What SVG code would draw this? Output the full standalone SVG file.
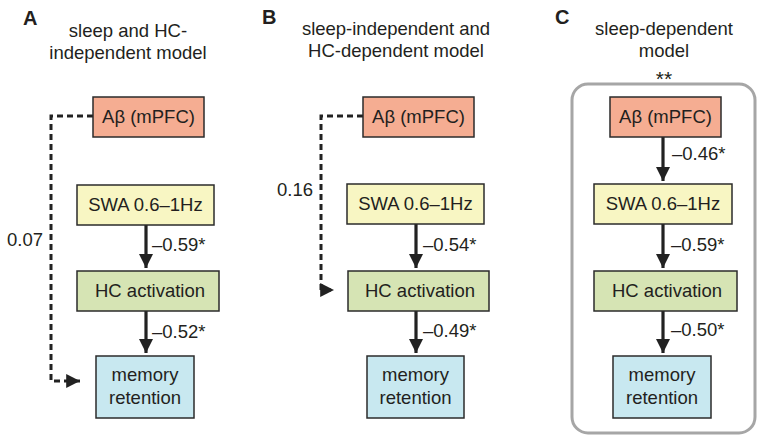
<svg xmlns="http://www.w3.org/2000/svg" width="763" height="442" viewBox="0 0 763 442">
<defs>
<style>
text{font-family:"Liberation Sans",Arial,sans-serif;fill:#231f20;font-size:18.5px}
.pl{font-weight:bold;font-size:20px}
.t{text-anchor:middle}
.st{font-size:21px}
.box{stroke:#2b2b2b;stroke-width:1.5}
.ab{fill:#f5ad92}
.swa{fill:#f8f6c3}
.hc{fill:#d6e4b4}
.mem{fill:#c8e8f0}
.sol{stroke:#222;stroke-width:3.2;fill:none}
.dash{stroke:#222;stroke-width:3;fill:none;stroke-dasharray:6 4}
.frame{fill:none;stroke:#a6a6a6;stroke-width:3}
</style>
<marker id="ah" viewBox="0 0 10 10" refX="10" refY="5" markerWidth="4.4" markerHeight="4.4" orient="auto" markerUnits="strokeWidth">
<path d="M0,0 L10,5 L0,10 z" fill="#222"/>
</marker>
<marker id="ahd" viewBox="0 0 10 10" refX="10" refY="5" markerWidth="4.6" markerHeight="4.6" orient="auto" markerUnits="strokeWidth">
<path d="M0,0 L10,5 L0,10 z" fill="#222"/>
</marker>
</defs>
<rect width="763" height="442" fill="#fff"/>

<g id="panelA">
<text class="pl" x="23" y="25">A</text>
<text class="t" x="128" y="37">sleep and HC-</text>
<text class="t" x="128" y="59">independent model</text>
</g>
<g id="panelB">
<text class="pl" x="262" y="24">B</text>
<text class="t" x="396" y="35">sleep-independent and</text>
<text class="t" x="396" y="57">HC-dependent model</text>
</g>
<g id="panelC">
<text class="pl" x="555" y="24">C</text>
<text class="t" x="664" y="35">sleep-dependent</text>
<text class="t" x="664" y="57">model</text>
<text class="t st" x="664" y="86">**</text>
<rect class="frame" x="572" y="84" width="183" height="349" rx="16"/>
</g>

<g id="connectors">
<path class="dash" d="M93,116 H51 V381 H80" marker-end="url(#ahd)"/>
<path class="dash" d="M363,116 H321 V290 H334" marker-end="url(#ahd)"/>
<line class="sol" x1="146" y1="225" x2="146" y2="268" marker-end="url(#ah)"/>
<line class="sol" x1="146" y1="311" x2="146" y2="353" marker-end="url(#ah)"/>
<line class="sol" x1="416" y1="224" x2="416" y2="268" marker-end="url(#ah)"/>
<line class="sol" x1="416" y1="311" x2="416" y2="353" marker-end="url(#ah)"/>
<line class="sol" x1="663" y1="137" x2="663" y2="181" marker-end="url(#ah)"/>
<line class="sol" x1="663" y1="224" x2="663" y2="268" marker-end="url(#ah)"/>
<line class="sol" x1="663" y1="311" x2="663" y2="353" marker-end="url(#ah)"/>
<text x="7" y="246">0.07</text>
<text x="277" y="196">0.16</text>
<text x="152" y="251">–0.59*</text>
<text x="152" y="338">–0.52*</text>
<text x="423" y="251">–0.54*</text>
<text x="423" y="337">–0.49*</text>
<text x="672" y="160">–0.46*</text>
<text x="671" y="251">–0.59*</text>
<text x="671" y="336">–0.50*</text>
</g>

<g id="A-abeta"><rect class="box ab" x="93" y="97" width="111" height="40"/><text class="t" x="148.5" y="123">Aβ (mPFC)</text></g>
<g id="A-swa"><rect class="box swa" x="77" y="185" width="137" height="40"/><text class="t" x="145.5" y="211">SWA 0.6–1Hz</text></g>
<g id="A-hc"><rect class="box hc" x="77" y="271" width="142" height="40"/><text class="t" x="150" y="297">HC activation</text></g>
<g id="A-mem"><rect class="box mem" x="96" y="356" width="98" height="62"/><text class="t" x="145" y="381">memory</text><text class="t" x="145" y="404">retention</text></g>

<g id="B-abeta"><rect class="box ab" x="363" y="97" width="111" height="40"/><text class="t" x="418.5" y="123">Aβ (mPFC)</text></g>
<g id="B-swa"><rect class="box swa" x="347" y="184" width="137" height="40"/><text class="t" x="415.5" y="210">SWA 0.6–1Hz</text></g>
<g id="B-hc"><rect class="box hc" x="348" y="271" width="141" height="40"/><text class="t" x="420" y="297">HC activation</text></g>
<g id="B-mem"><rect class="box mem" x="367" y="356" width="97" height="62"/><text class="t" x="415.5" y="381">memory</text><text class="t" x="415.5" y="404">retention</text></g>

<g id="C-abeta"><rect class="box ab" x="610" y="97" width="111" height="40"/><text class="t" x="665.5" y="123">Aβ (mPFC)</text></g>
<g id="C-swa"><rect class="box swa" x="594" y="184" width="138" height="40"/><text class="t" x="663" y="210">SWA 0.6–1Hz</text></g>
<g id="C-hc"><rect class="box hc" x="594" y="271" width="143" height="40"/><text class="t" x="667" y="297">HC activation</text></g>
<g id="C-mem"><rect class="box mem" x="613" y="356" width="98" height="62"/><text class="t" x="662" y="381">memory</text><text class="t" x="662" y="404">retention</text></g>
</svg>
